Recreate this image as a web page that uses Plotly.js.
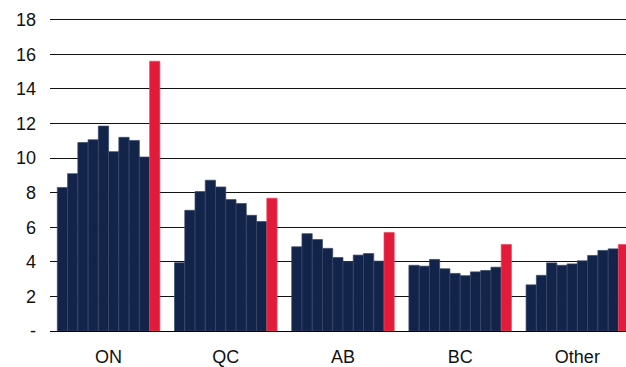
<!DOCTYPE html>
<html>
<head>
<meta charset="utf-8">
<script src="https://cdn.plot.ly/plotly-3.0.1.min.js"></script>
<style>html,body{margin:0;padding:0;background:#fff;}#chart{width:626px;height:367px;}</style>
</head>
<body>
<div id="chart"></div>
<script>
const categories = ["ON", "QC", "AB", "BC", "Other"];
const valuesON    = [8.3, 9.1, 10.9, 11.06, 11.85, 10.37, 11.2, 11.02, 10.06, 15.6];
const valuesQC    = [3.95, 6.98, 8.06, 8.72, 8.33, 7.6, 7.37, 6.69, 6.33, 7.68];
const valuesAB    = [4.87, 5.63, 5.29, 4.78, 4.25, 4.0, 4.39, 4.48, 4.04, 5.7];
const valuesBC    = [3.8, 3.75, 4.14, 3.6, 3.33, 3.2, 3.42, 3.5, 3.69, 5.0];
const valuesOther = [2.67, 3.22, 3.94, 3.8, 3.88, 4.06, 4.37, 4.66, 4.75, 5.0];
const seriesColors = ["#13244a","#13244a","#13244a","#13244a","#13244a","#13244a","#13244a","#13244a","#13244a","#e31b3a"];
const tickVals = [0, 2, 4, 6, 8, 10, 12, 14, 16, 18];
const tickText = ["-", "2", "4", "6", "8", "10", "12", "14", "16", "18"];

const byRegion = [valuesON, valuesQC, valuesAB, valuesBC, valuesOther];
const traces = seriesColors.map((c, i) => ({
  type: "bar",
  x: categories,
  y: byRegion.map(r => r[i]),
  name: "Series " + (i + 1),
  marker: {color: c, line: {color: i === 9 ? "#e8475f" : "#3a4867", width: 0.7}},
  hoverinfo: "y"
}));

const layout = {
  width: 626, height: 367,
  margin: {l: 50, r: 0, t: 18, b: 36},
  paper_bgcolor: "#fff", plot_bgcolor: "#fff",
  showlegend: false,
  barmode: "group",
  bargap: 0.125,
  bargroupgap: 0,
  font: {family: "Liberation Sans, Arial, sans-serif", size: 18, color: "#111"},
  xaxis: {
    type: "category",
    range: [-0.5, 4.415],
    showgrid: false, zeroline: false, showline: false,
    ticks: "outside", ticklen: 9, tickcolor: "rgba(0,0,0,0)",
    tickfont: {size: 18, color: "#111"}
  },
  yaxis: {
    range: [0, 18.1],
    tickvals: tickVals, ticktext: tickText,
    showgrid: true, gridcolor: "#111", gridwidth: 1,
    zeroline: true, zerolinecolor: "#000", zerolinewidth: 1,
    showline: false,
    ticks: "", ticklabelstandoff: 13,
    tickfont: {size: 18, color: "#111"}
  }
};

Plotly.newPlot("chart", traces, layout, {displayModeBar: false, staticPlot: true});
</script>
</body>
</html>
